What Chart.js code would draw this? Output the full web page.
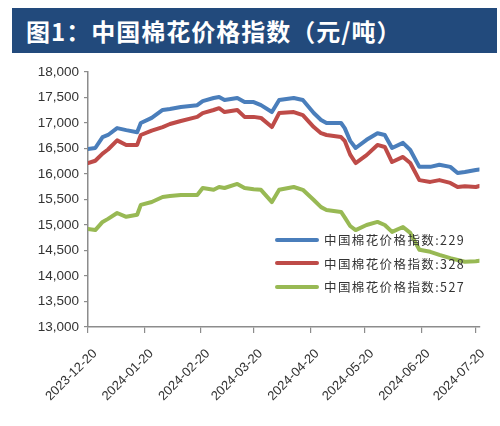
<!DOCTYPE html>
<html>
<head>
<meta charset="utf-8">
<script src="https://cdn.jsdelivr.net/npm/chart.js@4"></script>
<style>
  html,body{margin:0;padding:0;background:#fff;}
  #wrap{position:relative;width:500px;height:426px;overflow:hidden;}
  #title{position:absolute;left:12px;top:8px;width:485px;height:45px;background:#224a7c;color:#fff;
    font-family:"Noto Sans CJK SC",sans-serif;font-weight:bold;font-size:24px;line-height:45px;
    padding-left:14px;box-sizing:border-box;letter-spacing:1px;}
  #chart{position:absolute;left:0;top:0;}
  #legend{position:absolute;left:275px;top:228px;font-family:"Noto Sans CJK SC",sans-serif;font-size:12.5px;color:#333;letter-spacing:1.4px;}
  .row{height:23.5px;display:flex;align-items:center;}
  .sw{width:44px;height:4px;border-radius:2px;margin-right:5px;}
</style>
</head>
<body>
<div id="wrap">
  <canvas id="chart" width="500" height="426"></canvas>
  <div id="title">图1：中国棉花价格指数（元/吨）</div>
  <div id="legend"></div>
</div>
<script>
const dates = ["2023-12-20","2023-12-24","2023-12-28","2023-12-31","2024-01-05","2024-01-10","2024-01-16","2024-01-18","2024-01-24","2024-01-30",
"2024-02-03","2024-02-09","2024-02-18","2024-02-21","2024-02-27","2024-03-01","2024-03-04","2024-03-11","2024-03-15","2024-03-20",
"2024-03-24","2024-03-30","2024-04-03","2024-04-11","2024-04-16","2024-04-22","2024-04-26","2024-04-29","2024-05-07","2024-05-09",
"2024-05-12","2024-05-15","2024-05-21","2024-05-27","2024-05-31","2024-06-04","2024-06-10","2024-06-14","2024-06-19","2024-06-25",
"2024-06-30","2024-07-06","2024-07-10","2024-07-14","2024-07-20","2024-07-22"];
const index229 = [16490,16510,16725,16765,16900,16860,16820,17000,17100,17255,
17275,17315,17350,17430,17490,17510,17450,17490,17410,17410,
17350,17215,17450,17490,17450,17195,17060,17000,17000,16900,
16650,16510,16670,16800,16765,16510,16610,16470,16140,16140,
16180,16140,16020,16040,16080,16090];
const index328 = [16215,16260,16400,16480,16660,16570,16570,16765,16850,16920,
16980,17040,17120,17195,17255,17290,17215,17255,17120,17120,
17100,16920,17195,17215,17155,16920,16800,16765,16725,16650,
16380,16215,16370,16570,16530,16235,16335,16215,15880,15845,
15880,15825,15745,15760,15745,15765];
const index527 = [14920,14900,15060,15120,15235,15160,15200,15395,15450,15550,
15570,15590,15590,15725,15690,15745,15725,15805,15725,15700,
15690,15450,15690,15745,15690,15490,15350,15295,15255,15150,
14980,14900,15000,15060,15000,14865,14960,14845,14515,14475,
14415,14350,14315,14280,14290,14300];
const tickDates = ["2023-12-20","2024-01-20","2024-02-20","2024-03-20","2024-04-20","2024-05-20","2024-06-20","2024-07-20"];
const tickLabels = ["2023-12-20","2024-01-20","2024-02-20","2024-03-20","2024-04-20","2024-05-20","2024-06-20","2024-07-20"];
const seriesNames = ["中国棉花价格指数:229","中国棉花价格指数:328","中国棉花价格指数:527"];
const yTicks = {min:13000,max:18000,step:500};

const DAY = 86400000;
const base = Date.parse(dates[0]+"T00:00:00Z");
const toDay = s => Math.round((Date.parse(s+"T00:00:00Z")-base)/DAY);
const tickDays = tickDates.map(toDay);
const colors = ["#4a7ebb","#be4b48","#98b954"];
const series = [index229,index328,index527];

const datasets = series.map((vals,i)=>({
  label: seriesNames[i],
  data: vals.map((v,j)=>({x:toDay(dates[j]),y:v})),
  borderColor: colors[i],
  borderWidth: 4,
  pointRadius: 0,
  tension: 0,
  borderJoinStyle:'round',
  borderCapStyle:'round',
  fill:false
}));

const yFont = {family:"'Liberation Sans', Arial, sans-serif", size:13.5};
const xFont = {family:"'Liberation Sans', Arial, sans-serif", size:13};
new Chart(document.getElementById('chart'), {
  type:'line',
  data:{datasets},
  options:{
    responsive:false,
    animation:false,
    layout:{padding:{left:0,top:72,right:18,bottom:0}},
    plugins:{legend:{display:false},tooltip:{enabled:false}},
    scales:{
      x:{
        type:'linear',
        min:0,
        max:toDay(dates[dates.length-1]),
        afterBuildTicks: s => { s.ticks = tickDays.map(v=>({value:v})); },
        afterFit: s => { s.height = 99; },
        ticks:{
          autoSkip:false,
          minRotation:45,maxRotation:45,
          color:'#333',font:xFont,padding:13,labelOffset:7,
          callback:(v)=>{ const k = tickDays.indexOf(v); return k>=0 ? tickLabels[k] : ''; }
        },
        grid:{display:true,drawOnChartArea:false,tickLength:6,color:'#8c8c8c',lineWidth:1.2},
        border:{display:true,color:'#8c8c8c',width:1.5}
      },
      y:{
        min:yTicks.min,max:yTicks.max,
        afterFit: s => { s.width = 88; },
        ticks:{
          stepSize:yTicks.step,
          color:'#333',font:yFont,padding:5,
          callback:v=>v.toLocaleString('en-US')
        },
        grid:{display:true,drawOnChartArea:false,tickLength:4,color:'#8c8c8c',lineWidth:1.2},
        border:{display:true,color:'#8c8c8c',width:1.5}
      }
    }
  }
});

const leg = document.getElementById('legend');
seriesNames.forEach((n,i)=>{
  const r = document.createElement('div'); r.className='row';
  const sw = document.createElement('div'); sw.className='sw'; sw.style.background=colors[i];
  const t = document.createElement('span'); t.textContent=n;
  r.appendChild(sw); r.appendChild(t); leg.appendChild(r);
});
</script>
</body>
</html>
